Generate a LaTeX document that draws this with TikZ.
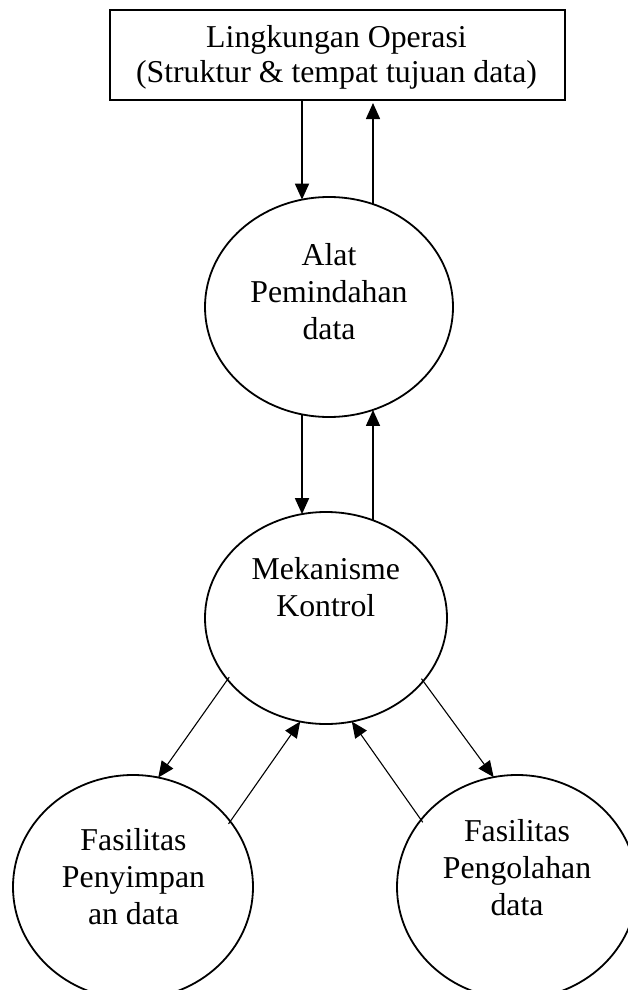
\documentclass[tikz,border=0pt]{standalone}
\usepackage{fontspec}
\setmainfont{Liberation Serif}
\usetikzlibrary{arrows.meta,shapes.geometric}
\begin{document}
\begin{tikzpicture}[x=1pt,y=-1pt,
  every node/.style={inner sep=0pt, outer sep=0pt},
  txt/.style={align=center, font=\fontsize{31.8}{37}\selectfont},
  bubble/.style={draw, ellipse, line width=1.8pt},
  flow/.style={-{Triangle[length=16pt,width=14pt]}, line width=1.8pt},
  thinflow/.style={-{Triangle[length=16pt,width=14pt]}, line width=1.1pt, shorten <=-3pt},
]
\useasboundingbox (0,0) rectangle (628,990);
\fill[white] (0,0) rectangle (628,990);
\clip (0,0) rectangle (628,990);

% environment box
\node[draw, line width=2.2pt, minimum width=455pt, minimum height=90pt] (env) at (337.5,55) {};
\node[txt, font=\fontsize{31.8}{35}\selectfont] (envtext) at (336.5,57.1)
  {Lingkungan Operasi\\(Struktur \& tempat tujuan data)};

% process bubbles
\node[bubble, minimum width=248pt, minimum height=220pt] (e1) at (329,307) {};
\node[bubble, minimum width=242pt, minimum height=212pt] (e2) at (326,618) {};
\node[bubble, minimum width=240pt, minimum height=224pt] (e3) at (133,887) {};
\node[bubble, minimum width=240pt, minimum height=224pt] (e4) at (517,887) {};

\node[txt] (t1) at (329,291.5) {Alat\\Pemindahan\\data};
\node[txt] (t2) at (325.8,586.7) {Mekanisme\\Kontrol};
\node[txt] (t3) at (133.5,876.2) {Fasilitas\\Penyimpan\\an data};
\node[txt] (t4) at (517,867.5) {Fasilitas\\Pengolahan\\data};

% vertical flows
\coordinate (xl) at (302,0);
\coordinate (xr) at (373,0);
\draw[flow] (xl |- env.south) -- (xl |- e1.104);
\draw[flow, line width=1.5pt, shorten >=3pt] (xr |- e1.67) -- (xr |- env.south);
\draw[flow] (xl |- e1.256) -- (xl |- e2.103);
\draw[flow, line width=1.5pt] (xr |- e2.64) -- (xr |- e1.293);

% diagonal flows
\draw[thinflow] (e2.212) -- (e3.77);
\draw[thinflow] (e3.34) -- (e2.256);
\draw[thinflow] (e4.145) -- (e2.284);
\draw[thinflow] (e2.327) -- (e4.102);
\end{tikzpicture}
\end{document}
